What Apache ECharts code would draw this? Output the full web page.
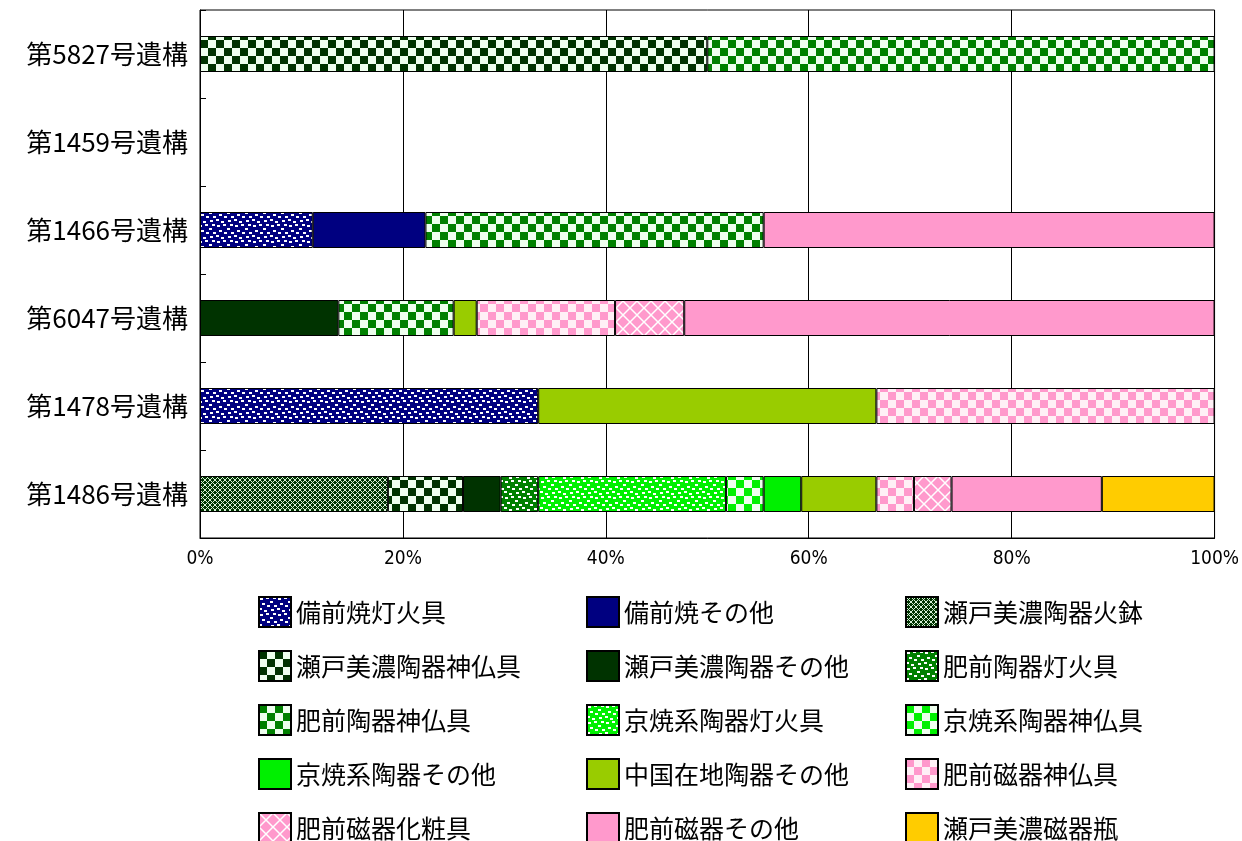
<!DOCTYPE html>
<html lang="ja">
<head>
    <meta charset="UTF-8">
    <title>遺構別出土遺物</title>
    <script src="https://cdn.jsdelivr.net/npm/echarts@6/dist/echarts.min.js"></script>
    <style>
        html, body { margin: 0; padding: 0; background: #fff; }
        #main { width: 1242px; height: 841px; }
    </style>
</head>
<body>
<div id="main"></div>
<script type="text/javascript">
    // 遺構（上から順）
    var categories = ['第5827号遺構', '第1459号遺構', '第1466号遺構', '第6047号遺構', '第1478号遺構', '第1486号遺構'];

    // 各分類の点数（categories と同じ並び）
    var bizenToka      = [0, 0, 1, 0, 1, 0];   // 備前焼灯火具
    var bizenOther     = [0, 0, 1, 0, 0, 0];   // 備前焼その他
    var setoHibachi    = [0, 0, 0, 0, 0, 5];   // 瀬戸美濃陶器火鉢
    var setoShinbutsu  = [1, 0, 0, 0, 0, 2];   // 瀬戸美濃陶器神仏具
    var setoOther      = [0, 0, 0, 6, 0, 1];   // 瀬戸美濃陶器その他
    var hizenToka      = [0, 0, 0, 0, 0, 1];   // 肥前陶器灯火具
    var hizenShinbutsu = [1, 0, 3, 5, 0, 0];   // 肥前陶器神仏具
    var kyoToka        = [0, 0, 0, 0, 0, 5];   // 京焼系陶器灯火具
    var kyoShinbutsu   = [0, 0, 0, 0, 0, 1];   // 京焼系陶器神仏具
    var kyoOther       = [0, 0, 0, 0, 0, 1];   // 京焼系陶器その他
    var chugokuOther   = [0, 0, 0, 1, 1, 2];   // 中国在地陶器その他
    var jikiShinbutsu  = [0, 0, 0, 6, 1, 1];   // 肥前磁器神仏具
    var jikiKesho      = [0, 0, 0, 3, 0, 1];   // 肥前磁器化粧具
    var jikiOther      = [0, 0, 4, 23, 0, 4];  // 肥前磁器その他
    var setoJikiBin    = [0, 0, 0, 0, 0, 3];   // 瀬戸美濃磁器瓶

    var xTicks = [0, 20, 40, 60, 80, 100];

    // 模様タイル
    function tile(w, h, bg, draw) {
        var c = document.createElement('canvas');
        c.width = w; c.height = h;
        var g = c.getContext('2d');
        g.fillStyle = bg;
        g.fillRect(0, 0, w, h);
        if (draw) draw(g, w, h);
        return { image: c, repeat: 'repeat' };
    }
    function checker(dark, light, cell) {
        return tile(cell * 2, cell * 2, light, function (g) {
            g.fillStyle = dark;
            g.fillRect(0, 0, cell, cell);
            g.fillRect(cell, cell, cell, cell);
        });
    }
    function dots(bg) {
        var pts = [[1,1],[7,0],[11,4],[3,6],[8,8],[0,11],[12,12],[5,13],[14,0],[15,8]];
        return tile(18, 16, bg, function (g) {
            g.fillStyle = '#ffffff';
            pts.forEach(function (p) { g.fillRect(p[0], p[1], 3, 2); });
        });
    }
    function lattice(bg, fg, p, lw) {
        return tile(p, p, bg, function (g) {
            g.strokeStyle = fg;
            g.lineWidth = lw;
            g.beginPath();
            g.moveTo(0, 0); g.lineTo(p, p);
            g.moveTo(p, 0); g.lineTo(0, p);
            g.stroke();
        });
    }

    var NAVY = '#000080', DKGREEN = '#003300', GREEN = '#008000', LIME = '#00f000',
        OLIVE = '#99cc00', PINK = '#ff99cc', GOLD = '#ffcc00';

    var seriesDefs = [
        ['備前焼灯火具', bizenToka, dots(NAVY)],
        ['備前焼その他', bizenOther, NAVY],
        ['瀬戸美濃陶器火鉢', setoHibachi, lattice(DKGREEN, '#d8f0d8', 5, 1)],
        ['瀬戸美濃陶器神仏具', setoShinbutsu, checker(DKGREEN, '#eeffee', 8)],
        ['瀬戸美濃陶器その他', setoOther, DKGREEN],
        ['肥前陶器灯火具', hizenToka, dots(GREEN)],
        ['肥前陶器神仏具', hizenShinbutsu, checker(GREEN, '#eeffee', 8)],
        ['京焼系陶器灯火具', kyoToka, dots(LIME)],
        ['京焼系陶器神仏具', kyoShinbutsu, checker(LIME, '#eeffee', 8)],
        ['京焼系陶器その他', kyoOther, LIME],
        ['中国在地陶器その他', chugokuOther, OLIVE],
        ['肥前磁器神仏具', jikiShinbutsu, checker(PINK, '#fff0f6', 8)],
        ['肥前磁器化粧具', jikiKesho, lattice(PINK, '#ffffff', 14, 1.5)],
        ['肥前磁器その他', jikiOther, PINK],
        ['瀬戸美濃磁器瓶', setoJikiBin, GOLD]
    ];

    var totals = categories.map(function (c, i) {
        return seriesDefs.reduce(function (s, d) { return s + d[1][i]; }, 0);
    });

    var series = seriesDefs.map(function (d) {
        return {
            name: d[0],
            type: 'bar',
            stack: 'total',
            barWidth: 36,
            itemStyle: { color: d[2], borderColor: '#000', borderWidth: 1 },
            data: d[1].map(function (v, i) {
                return v > 0 ? v / totals[i] * 100 : '-';
            })
        };
    });

    var legendFont = { fontSize: 25, color: '#000', fontFamily: 'Noto Sans CJK JP' };
    function column(idx, left) {
        return {
            orient: 'vertical',
            left: left,
            top: 596,
            height: 300,
            padding: 0,
            icon: 'rect',
            itemWidth: 32,
            itemHeight: 30,
            itemGap: 22,
            selectedMode: false,
            textStyle: legendFont,
            data: idx.map(function (k) { return seriesDefs[k][0]; })
        };
    }

    var myChart = echarts.init(document.getElementById('main'));
    var option = {
        backgroundColor: '#fff',
        animation: false,
        grid: {
            left: 200, right: 27, top: 10, bottom: 303,
            show: true, borderColor: '#000', borderWidth: 1
        },
        legend: [
            column([0, 3, 6, 9, 12], 258),
            column([1, 4, 7, 10, 13], 586),
            column([2, 5, 8, 11, 14], 905)
        ],
        xAxis: {
            type: 'value',
            min: xTicks[0],
            max: xTicks[xTicks.length - 1],
            interval: 20,
            axisLine: { show: true, lineStyle: { color: '#000' } },
            axisTick: { show: false },
            splitLine: { show: true, lineStyle: { color: '#000', width: 1 } },
            axisLabel: {
                formatter: '{value}%', color: '#000', fontSize: 19, margin: 12,
                fontFamily: 'DejaVu Sans Condensed'
            }
        },
        yAxis: {
            type: 'category',
            inverse: true,
            data: categories,
            axisLine: { show: true, lineStyle: { color: '#000' } },
            axisTick: { show: true, inside: true, length: 6, lineStyle: { color: '#000' } },
            axisLabel: { color: '#000', fontSize: 26, margin: 12, fontFamily: 'Noto Sans CJK JP' }
        },
        series: series
    };
    myChart.setOption(option);
</script>
</body>
</html>
